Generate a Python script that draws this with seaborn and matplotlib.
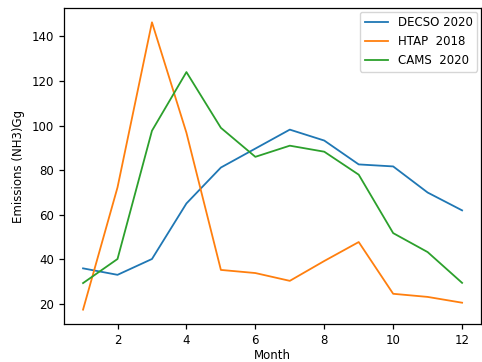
import matplotlib
matplotlib.use("Agg")
import matplotlib.pyplot as plt
import seaborn as sns
import pandas as pd

months = [1, 2, 3, 4, 5, 6, 7, 8, 9, 10, 11, 12]
decso_2020 = [36.0, 33.1, 40.2, 65.1, 81.2, 89.7, 98.2, 93.3, 82.6, 81.7, 70.0, 62.0]
htap_2018 = [17.5, 72.3, 146.3, 96.8, 35.3, 33.9, 30.4, 39.3, 47.8, 24.6, 23.2, 20.6]
cams_2020 = [29.4, 40.2, 97.7, 124.0, 99.0, 86.0, 91.0, 88.3, 78.0, 51.8, 43.3, 29.5]
labels = ["DECSO 2020", "HTAP  2018", "CAMS  2020"]

df = pd.DataFrame({
    "Month": months * 3,
    "value": decso_2020 + htap_2018 + cams_2020,
    "series": [labels[0]] * 12 + [labels[1]] * 12 + [labels[2]] * 12,
})

plt.rcParams.update({"font.size": 8.5, "axes.linewidth": 0.9,
                     "xtick.major.width": 0.9, "ytick.major.width": 0.9,
                     "xtick.major.size": 3.5, "ytick.major.size": 3.5})

fig = plt.figure(figsize=(4.82, 3.62), dpi=100)
ax = fig.add_axes([0.133, 0.105, 0.865, 0.873])
sns.lineplot(data=df, x="Month", y="value", hue="series", ax=ax,
             palette=["#1f77b4", "#ff7f0e", "#2ca02c"], linewidth=1.3)
ax.set_xlabel("Month", labelpad=1.5)
ax.set_ylabel("Emissions (NH3)Gg", labelpad=5)
ax.set_xticks([2, 4, 6, 8, 10, 12])
ax.set_yticks([20, 40, 60, 80, 100, 120, 140])
ax.legend(title=None, loc="upper right", borderaxespad=0.3)
fig.savefig("out.png", dpi=100)
